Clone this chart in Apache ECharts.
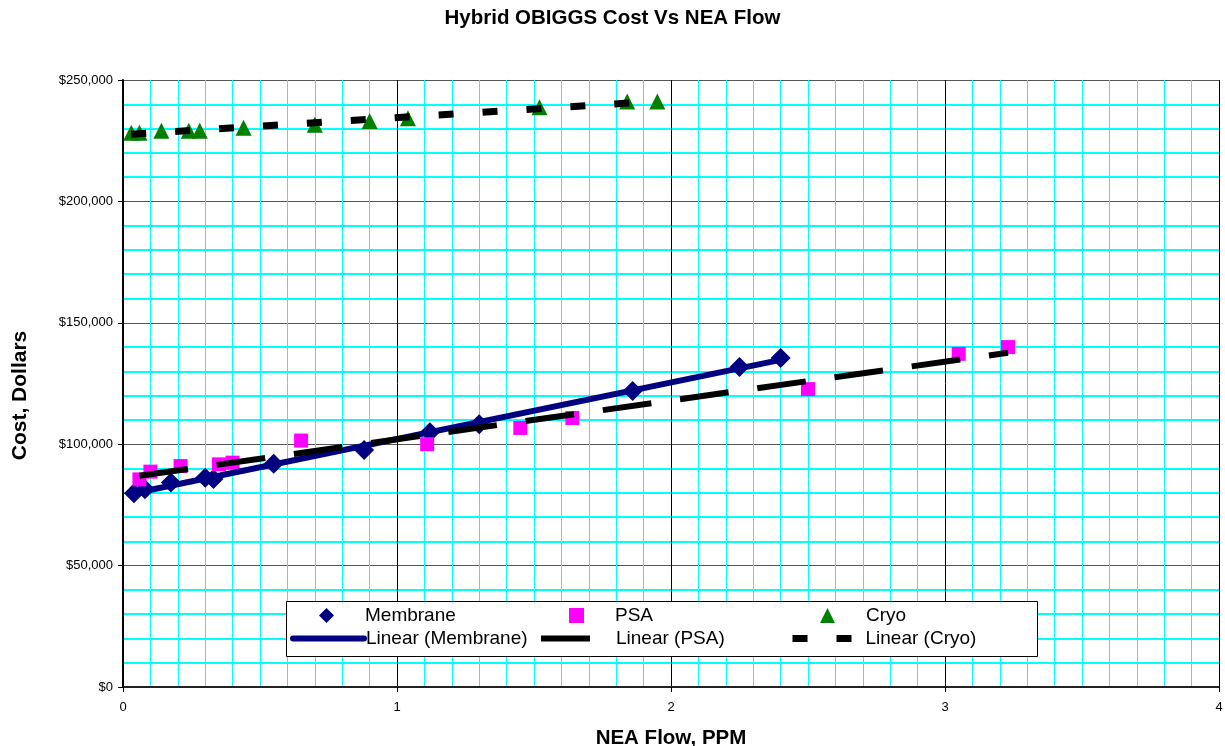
<!DOCTYPE html>
<html>
<head>
<meta charset="utf-8">
<title>Hybrid OBIGGS Cost Vs NEA Flow</title>
<script src="https://cdn.jsdelivr.net/npm/echarts@6/dist/echarts.min.js"></script>
<style>
  html, body { margin: 0; padding: 0; background: #fff; }
  #chart { width: 1225px; height: 746px; }
</style>
</head>
<body>
<div id="chart"></div>
<script>
const FONT = 'Liberation Sans, Arial, sans-serif';

// values
const membraneFlow = [0.04, 0.08, 0.175, 0.30, 0.33, 0.55, 0.88, 1.12, 1.30, 1.86, 2.25, 2.40];
const membraneCost = [79800, 81400, 84200, 86200, 85700, 91900, 97600, 104900, 108200, 121900, 131800, 135500];

const psaFlow = [0.06, 0.10, 0.21, 0.35, 0.40, 0.65, 1.11, 1.45, 1.64, 2.50, 3.05, 3.23];
const psaCost = [85500, 88700, 91000, 91700, 92400, 101500, 100000, 106700, 110800, 122700, 137200, 140000];

const cryoFlow = [0.03, 0.06, 0.14, 0.24, 0.28, 0.44, 0.70, 0.90, 1.04, 1.52, 1.84, 1.95];
const cryoCost = [228300, 228300, 229100, 229100, 229100, 230300, 231600, 233100, 234200, 238800, 241100, 241100];

const flowTicks = [0, 1, 2, 3, 4];
const costTicks = [0, 50000, 100000, 150000, 200000, 250000];

const pairs = (xs, ys) => xs.map((x, i) => [x, ys[i]]);

// least squares trendline over the data range (the spreadsheet "Linear" trendline)
function linearFit(xs, ys) {
  const n = xs.length;
  const mx = xs.reduce((a, b) => a + b, 0) / n;
  const my = ys.reduce((a, b) => a + b, 0) / n;
  let sxy = 0, sxx = 0;
  for (let i = 0; i < n; i++) {
    sxy += (xs[i] - mx) * (ys[i] - my);
    sxx += (xs[i] - mx) * (xs[i] - mx);
  }
  const slope = sxy / sxx;
  const x0 = Math.min(...xs), x1 = Math.max(...xs);
  return [[x0, my + slope * (x0 - mx)], [x1, my + slope * (x1 - mx)]];
}

const chart = echarts.init(document.getElementById('chart'), null, { renderer: 'canvas' });

// one legend per cell so the 3x2 layout lines up like the original box
const legendText = { fontFamily: FONT, fontSize: 19, color: '#000' };
const markerLegend = (name, left) => ({
  left: left, top: 606, padding: 0, itemWidth: 15, itemHeight: 15,
  selectedMode: false, data: [name],
  textStyle: Object.assign({ padding: [0, 0, 0, 26] }, legendText)
});
const lineLegend = (name, left, width, textShift, lineStyle) => ({
  left: left, top: 629, padding: 0, itemWidth: width, itemHeight: 14,
  selectedMode: false, data: [name],
  itemStyle: { opacity: 0 },
  lineStyle: lineStyle,
  textStyle: Object.assign({ padding: [0, 0, 0, textShift] }, legendText)
});

const option = {
  backgroundColor: '#fff',
  animation: false,
  title: {
    text: 'Hybrid OBIGGS Cost Vs NEA Flow',
    left: 'center',
    top: 3,
    textStyle: { fontFamily: FONT, fontSize: 20.5, fontWeight: 'bold', color: '#000' }
  },
  grid: { left: 123, right: 6, top: 80, bottom: 59, outerBoundsMode: 'none', containLabel: false },
  legend: [
    markerLegend('Membrane', 319),
    markerLegend('PSA', 569),
    markerLegend('Cryo', 820),
    lineLegend('Linear (Membrane)', 290, 71, -3, { width: 6, cap: 'round' }),
    lineLegend('Linear (PSA)', 538, 76, -6, { width: 6 }),
    lineLegend('Linear (Cryo)', 789, 76, -8, { width: 7 })
  ],
  graphic: [{
    type: 'rect',
    z: 3,
    shape: { x: 286.5, y: 601.5, width: 751, height: 55 },
    style: { fill: '#fff', stroke: '#000', lineWidth: 1 }
  }],
  xAxis: {
    type: 'value',
    min: flowTicks[0],
    max: flowTicks[flowTicks.length - 1],
    interval: 1,
    name: 'NEA Flow, PPM',
    nameLocation: 'middle',
    nameGap: 41,
    nameTextStyle: { fontFamily: FONT, fontSize: 20.5, fontWeight: 'bold', color: '#000' },
    axisLine: { show: true, onZero: false, lineStyle: { color: '#222', width: 2 } },
    axisTick: { show: true, length: 5, lineStyle: { color: '#000' } },
    axisLabel: { fontFamily: FONT, fontSize: 13, color: '#000', margin: 14 },
    splitLine: { show: true, lineStyle: { color: '#000', width: 1 } },
    minorTick: { show: false, splitNumber: 10 },
    minorSplitLine: { show: true, lineStyle: { color: '#00ffff', width: 1 } }
  },
  yAxis: {
    type: 'value',
    min: costTicks[0],
    max: costTicks[costTicks.length - 1],
    interval: 50000,
    name: 'Cost, Dollars',
    nameLocation: 'middle',
    nameGap: 92,
    nameTextStyle: {
      fontFamily: FONT, fontSize: 21, fontWeight: 'bold', color: '#000',
      padding: [0, 24, 0, 0]
    },
    axisLine: { show: true, lineStyle: { color: '#000', width: 2 } },
    axisTick: { show: true, length: 5, lineStyle: { color: '#000' } },
    axisLabel: {
      fontFamily: FONT, fontSize: 13, color: '#000', margin: 10,
      formatter: v => '$' + v.toLocaleString('en-US')
    },
    splitLine: { show: true, lineStyle: { color: '#555', width: 1 } },
    minorTick: { show: false, splitNumber: 5 },
    minorSplitLine: { show: true, lineStyle: { color: '#00ffff', width: 2 } }
  },
  series: [
    {
      name: 'Membrane', type: 'scatter', z: 2,
      symbol: 'diamond', symbolSize: 20,
      itemStyle: { color: '#000080', opacity: 1 },
      data: pairs(membraneFlow, membraneCost)
    },
    {
      name: 'PSA', type: 'scatter', z: 2,
      symbol: 'rect', symbolSize: 14,
      itemStyle: { color: '#ff00ff', opacity: 1 },
      data: pairs(psaFlow, psaCost)
    },
    {
      name: 'Cryo', type: 'scatter', z: 2,
      symbol: 'triangle', symbolSize: 16,
      itemStyle: { color: '#008000', opacity: 1 },
      data: pairs(cryoFlow, cryoCost)
    },
    {
      name: 'Linear (Membrane)', type: 'line', z: 3,
      symbol: 'none', silent: true,
      lineStyle: { color: '#000080', width: 6, type: 'solid' },
      itemStyle: { color: '#000080' },
      data: linearFit(membraneFlow, membraneCost)
    },
    {
      name: 'Linear (PSA)', type: 'line', z: 3,
      symbol: 'none', silent: true,
      lineStyle: { color: '#000', width: 6, type: [49, 29] },
      itemStyle: { color: '#000' },
      data: linearFit(psaFlow, psaCost)
    },
    {
      name: 'Linear (Cryo)', type: 'line', z: 3,
      symbol: 'none', silent: true,
      lineStyle: { color: '#000', width: 7, type: [15, 29] },
      itemStyle: { color: '#000' },
      data: linearFit(cryoFlow, cryoCost)
    }
  ]
};

chart.setOption(option);
window.addEventListener('resize', () => chart.resize());
</script>
</body>
</html>
